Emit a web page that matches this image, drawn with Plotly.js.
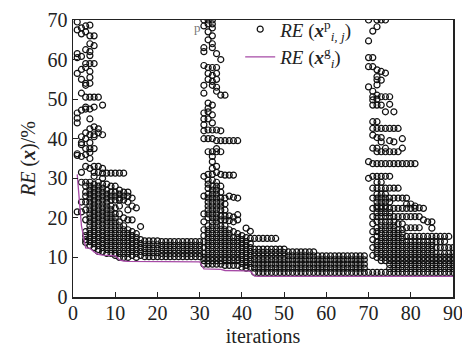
<!DOCTYPE html>
<html>
<head>
<meta charset="utf-8">
<script src="https://cdn.plot.ly/plotly-3.0.1.min.js"></script>
<style>html,body{margin:0;padding:0;background:#fff;}#chart{width:462px;height:354px;}</style>
</head>
<body>
<div id="chart"></div>
<script>
// Particle relative errors, iterations 1-30 (one list per iteration)
const phase1RE = [
  [69.5, 67.5, 61.5, 60.5, 56.5, 46.5, 45.2, 44, 36.2, 35.8, 21.5],
  [68, 66.5, 60.8, 57.5, 55, 51.5, 47.2, 40.5, 39, 38.5, 35.5, 31.5, 29, 24, 21.5],
  [68.5, 67, 62.5, 59, 58, 54, 53.5, 50.5, 48, 47.5, 41.5, 40, 37.5, 36, 33, 29, 28, 26.5, 25.5, 24, 22, 19.5, 16.5, 15.5, 14.5, 13.8],
  [68.7, 66, 64, 62, 61, 59, 57, 55.5, 54, 50.5, 47.5, 45, 42.5, 41, 39, 37.5, 36.5, 35, 32.5, 29, 28, 27, 26, 25, 24, 23, 22, 21, 20, 19, 18, 17, 16, 15, 14, 13],
  [66, 63.5, 59, 50.5, 48, 43, 41, 40.5, 37.5, 33, 31.5, 30.5, 28.5, 27.5, 26.5, 25.5, 24.5, 23.5, 22.5, 21.5, 20.5, 19.5, 18.5, 17.5, 16.5, 15.5, 14.5, 13.5, 12.5],
  [50.5, 42.5, 41.5, 33, 31.5, 29, 28, 27, 26, 25, 24, 23, 22, 21, 20, 19, 18, 17, 16, 15, 14, 13, 12, 11.5],
  [48.5, 41, 32.5, 31.3, 30, 28.5, 27.5, 26.5, 25.5, 24.5, 23.5, 22.5, 21.5, 20.5, 19.5, 18.5, 17.5, 16.5, 15.5, 14.5, 13.5, 12.5, 11.5],
  [31.3, 28.5, 27, 26, 25, 24, 23, 22, 21, 20, 19, 18, 17, 16, 15, 14, 13, 12, 11],
  [31.3, 28, 26.5, 25.5, 24.5, 23, 22, 21, 20, 19, 18, 17, 16, 15, 14, 13, 12, 11],
  [31.3, 28, 26.5, 25.5, 24.5, 22.5, 21, 20, 19, 18, 17, 16, 15, 14, 13, 12, 11, 10.5],
  [31.3, 27, 26, 25, 24.5, 23, 21, 19, 18, 17, 16, 15, 14, 13, 12, 11, 10],
  [31.3, 26.5, 25.5, 24.5, 20, 18, 17, 16, 15, 14, 13, 12, 11, 10],
  [26.5, 25.5, 24, 22, 19.5, 17, 16, 15, 14, 13, 12, 11, 10],
  [25, 23, 19.5, 16.5, 15.5, 14.5, 13.5, 12.5, 11.5, 10.5],
  [22.5, 16, 15, 14, 13, 12, 11, 10],
  [17.8, 14.5, 13.5, 12.5, 11.5, 10.5],
  [14.2, 13.2, 12.2, 11.2, 10.2],
  [14.2, 13.2, 12.2, 11.2, 10.2],
  [14.2, 13.2, 12.2, 11.2, 10.2],
  [14.2, 13.2, 12.2, 11.2, 10.2],
  [14, 13, 12, 11, 10.2],
  [14, 13, 12, 11, 10.2],
  [14, 13, 12, 11, 10.2],
  [14, 13, 12, 11, 10.2],
  [14, 13, 12, 11, 10.2],
  [14, 13, 12, 11, 10.2],
  [14, 13, 12, 11, 10.2],
  [14, 13, 12, 11, 10.2],
  [14, 13, 12, 11, 10.2],
  [14, 13, 12, 11, 10.2]
];
// iterations 31-70
const phase2RE = [
  [70, 68.5, 63, 62, 58.5, 53.5, 51.5, 46.5, 45, 43.5, 42, 40, 30.5, 25.5, 21, 19, 17, 15.5, 14, 12.5, 11, 10, 9.2, 8.3],
  [70, 69, 67, 65, 58, 56.5, 55, 49, 47.7, 46.8, 45, 42.2, 40, 36.7, 31, 29.5, 28.5, 27.5, 26, 25, 24, 23, 22, 21, 20, 18, 17, 16, 15, 14, 13, 12, 11, 10, 9.2, 8.3],
  [70, 69, 68, 66, 64, 63, 58, 56, 54.5, 53.5, 48.5, 46, 44, 42.2, 40, 36.7, 35.5, 34.2, 32.5, 31, 29.5, 28, 27, 26, 25, 24, 23, 22, 21, 20, 19, 18, 17, 16, 15, 14, 13, 12, 11, 10, 9.2, 8.3],
  [61.5, 58, 56.5, 55, 53, 52, 42.2, 39.5, 37.5, 36.7, 33, 31.5, 29, 28, 27, 26, 25, 24, 23, 22, 21, 20, 19, 18, 17, 16, 15, 14, 13, 12, 11, 10, 9.2, 8.3],
  [60, 51, 42, 39.5, 36.7, 31, 28, 26.5, 25, 24, 23, 22, 20.5, 19.5, 18, 17, 16, 15, 14, 13, 12, 11, 10, 9.2, 8.3],
  [51, 39.5, 30.8, 25, 23.5, 22, 20.5, 19.5, 18, 17, 16, 15, 14, 13, 12, 11, 10, 9.2, 8],
  [39.5, 30.8, 25.5, 20.5, 19.3, 17, 16, 15, 14, 13, 12, 11, 10, 9.2, 8],
  [39.5, 30.8, 25.2, 20.2, 19, 16.5, 15, 14, 13, 12, 11, 10, 9.2, 8],
  [39.5, 25, 20.8, 19.5, 16, 15, 14, 13, 12, 11, 10, 9.2, 8],
  [15.5, 14.5, 13.5, 12.5, 11.5, 10.5, 9.5, 8.5, 7.5],
  [17.4, 15, 14, 13, 12, 11, 10, 9, 8, 7.3],
  [16.6, 14.8, 13.5, 12.5, 11.5, 10.5, 9.5, 8.5, 7.5],
  [14.8, 12.1, 11.2, 10.3, 9.4, 8.3, 7.3, 6.2],
  [14.8, 12.1, 11.2, 10.3, 9.4, 8.3, 7.3, 6.2],
  [14.8, 12.1, 11.2, 10.3, 9.4, 8.3, 7.3, 6.2],
  [14.8, 12.1, 11.2, 10.3, 9.4, 8.3, 7.3, 6.2],
  [14.8, 12.1, 11.2, 10.3, 9.4, 8.3, 7.3, 6.2],
  [14.8, 12.1, 11.2, 10.3, 9.4, 8.3, 7.3, 6.2],
  [12.1, 11.2, 10.3, 9.4, 8.3, 7.3, 6.2],
  [12.1, 11.2, 10.3, 9.4, 8.3, 7.3, 6.2],
  [11.4, 10.4, 9.4, 8.3, 7.3, 6.2],
  [11.4, 10.4, 9.4, 8.3, 7.3, 6.2],
  [11.4, 10.4, 9.4, 8.3, 7.3, 6.2],
  [11.4, 10.4, 9.4, 8.3, 7.3, 6.2],
  [11.4, 10.4, 9.4, 8.3, 7.3, 6.2],
  [11.4, 10.4, 9.4, 8.3, 7.3, 6.2],
  [11.4, 10.4, 9.4, 8.3, 7.3, 6.2],
  [10.4, 9.4, 8.3, 7.3, 6.2],
  [10.4, 9.4, 8.3, 7.3, 6.2],
  [10.4, 9.4, 8.3, 7.3, 6.2],
  [10.4, 9.4, 8.3, 7.3, 6.2],
  [10.4, 9.4, 8.3, 7.3, 6.2],
  [10.4, 9.4, 8.3, 7.3, 6.2],
  [10.4, 9.4, 8.3, 7.3, 6.2],
  [10.4, 9.4, 8.3, 7.3, 6.2],
  [10.4, 9.4, 8.3, 7.3, 6.2],
  [10.4, 9.4, 8.3, 7.3, 6.2],
  [10.4, 9.4, 8.3, 7.3, 6.2],
  [10.4, 9.4, 8.3, 7.3, 6.2],
  [70, 64.7, 60.5, 58.2, 53.1, 34.2, 30, 6.2]
];
// iterations 71-90
const phase3RE = [
  [67.2, 60.5, 58.2, 52, 50.6, 49.8, 48.5, 44.3, 42.6, 40.9, 37.6, 33.7, 30.5, 27.5, 25, 22.4, 20.3, 18.5, 16.5, 14.5, 12.5, 10.5, 6.2],
  [70, 68.3, 57.4, 55.7, 54.9, 53.6, 51, 50, 48.5, 44.3, 42.6, 40.3, 37.6, 36.7, 33.7, 30.5, 29, 27.5, 26, 25, 24, 23, 22.4, 21.3, 20.3, 19, 17.5, 16.5, 15.3, 14, 13, 12, 11, 10, 6.2],
  [70, 57, 54.8, 50.6, 48.5, 42.6, 40.3, 39.2, 36.7, 33.7, 30.5, 29, 27.5, 26, 25, 24, 23, 22.4, 21.3, 20.3, 19, 18, 17, 16, 15, 14, 13, 12, 11, 10, 9.2, 6.2],
  [70, 56.6, 50.6, 46.8, 42.6, 37.6, 36.7, 33.7, 30.5, 27.5, 26, 25, 24, 23, 22.4, 21.3, 20.3, 19, 18, 17, 16, 15, 14, 13, 12, 11, 10, 9.2, 6.2],
  [50.6, 48.7, 42.6, 39.5, 36.7, 33.7, 30.5, 27.5, 25, 24, 22.4, 21.3, 20.3, 19, 18, 17, 16, 15, 14, 13, 12, 11, 10, 9.2, 8.2, 7.2, 6.2],
  [46.8, 42.6, 39.2, 36.7, 33.7, 27.5, 25, 22.4, 20.3, 19, 18, 17, 16, 15, 14, 13, 12, 11, 10, 9.2, 8.2, 7.2, 6.2],
  [42.6, 36.7, 33.7, 27.5, 25, 22.4, 20.3, 18.5, 17, 16, 15, 14, 13, 12, 11, 10, 9.2, 8.2, 7.2, 6.2],
  [40, 37.6, 33.7, 25, 22.4, 20.3, 18.5, 17, 16, 15, 14, 13, 12, 11, 10, 9.2, 8.2, 7.2, 6.2],
  [33.7, 25, 23.5, 22.4, 20.3, 17.5, 15.3, 14, 13, 12, 11, 10, 9.2, 8.2, 7.2, 6.2],
  [33.7, 23.5, 22.4, 20.3, 17.5, 15.3, 14, 13, 12, 11, 10, 9.2, 8.2, 7.2, 6.2],
  [33.7, 23, 22.4, 20.3, 17.5, 15.3, 14, 13, 12, 11, 10, 9.2, 8.2, 7.2, 6.2],
  [22.5, 20.3, 17.5, 15.3, 14, 13, 12, 11, 10, 9.2, 8.2, 7.2, 6.2],
  [22.4, 19.5, 15.3, 14, 13, 12, 11, 10, 9.2, 8.2, 7.2, 6.2],
  [19, 15.3, 14, 13, 12, 11, 10, 9.2, 8.2, 7.2, 6.2],
  [19, 17.4, 15.3, 14, 13, 12, 11, 10, 9.2, 8.2, 7.2, 6.2],
  [15.3, 14, 12.5, 11, 10, 9.2, 8.2, 7.2, 6.2],
  [15.3, 14, 12.5, 11, 10, 9.2, 8.2, 7.2, 6.2],
  [15.3, 14, 12.5, 11, 10, 9.2, 8.2, 7.2, 6.2],
  [15.3, 12.5, 11, 10, 9.2, 8.2, 7.2, 6.2],
  [12.5, 11, 10, 9.2, 8.2, 7.2, 6.2]
];
// Global best relative error per iteration 1..90
const globalBestRE = [
  31, 18, 12.4, 12.3, 11.4, 10.8, 10.6, 10.5, 10.4, 10.4,
  9.4, 9.1, 9.0, 9.0, 8.9, 8.9, 8.9, 8.9, 8.9, 8.9,
  8.9, 8.9, 8.9, 8.9, 8.9, 8.9, 8.9, 8.9, 8.9, 8.9,
  7.1, 7.1, 7.1, 7.1, 7.0, 6.7, 6.7, 6.7, 6.7, 6.7,
  6.6, 6.5, 5.3, 5.2, 5.2, 5.2, 5.2, 5.2, 5.2, 5.2,
  5.2, 5.2, 5.2, 5.2, 5.2, 5.2, 5.2, 5.2, 5.2, 5.2,
  5.2, 5.2, 5.2, 5.2, 5.2, 5.2, 5.2, 5.2, 5.2, 5.2,
  5.2, 5.2, 5.2, 5.2, 5.2, 5.2, 5.2, 5.2, 5.2, 5.2,
  5.2, 5.2, 5.2, 5.2, 5.2, 5.2, 5.2, 5.2, 5.2, 5.2
];
const xTicks = [0, 10, 20, 30, 40, 50, 60, 70, 80, 90];
const yTicks = [0, 10, 20, 30, 40, 50, 60, 70];

const allColumns = phase1RE.concat(phase2RE, phase3RE);
const px = [], py = [];
allColumns.forEach((col, i) => { col.forEach(v => { px.push(i + 1); py.push(v); }); });
const iterations = globalBestRE.map((_, i) => i + 1);

const serif = '"Liberation Serif", "Times New Roman", "DejaVu Serif", serif';
const traces = [
  {
    x: px, y: py, type: 'scatter', mode: 'markers',
    name: '<i>RE</i> (<b><i>x</i></b><sup>p</sup><sub><i>i, j</i></sub>)',
    marker: {symbol: 'circle-open', size: 6, color: '#111', line: {width: 1.2, color: '#111'}},
    cliponaxis: true
  },
  {
    x: iterations, y: globalBestRE, type: 'scatter', mode: 'lines',
    name: '<i>RE</i> (<b><i>x</i></b><sup>g</sup><sub><i>i</i></sub>)',
    line: {color: '#a64aa6', width: 1.3}
  }
];
const axisCommon = {
  showgrid: false, zeroline: false, showline: true, mirror: true,
  linecolor: '#222', linewidth: 1.5,
  ticks: 'inside', ticklen: 5, tickwidth: 1.2, tickcolor: '#222',
  ticklabeloverflow: 'allow',
  tickfont: {family: serif, size: 20, color: '#222'}
};
const layout = {
  width: 462, height: 354,
  margin: {l: 73, r: 9, t: 20, b: 57},
  paper_bgcolor: '#fff', plot_bgcolor: '#fff',
  font: {family: serif},
  showlegend: true,
  legend: {x: 0.44, y: 1.035, xanchor: 'left', yanchor: 'top', bgcolor: 'rgba(0,0,0,0)',
           font: {family: serif, size: 19, color: '#222'}, tracegroupgap: 0},
  xaxis: Object.assign({}, axisCommon, {range: [0, 90], tickvals: xTicks, automargin: false,
    ticklabelstandoff: -3,
    title: {text: 'iterations', font: {family: serif, size: 20, color: '#222'}, standoff: 6}}),
  yaxis: Object.assign({}, axisCommon, {range: [0, 70], tickvals: yTicks, automargin: false,
    title: {text: '<i>RE</i> (<b><i>x</i></b>)/%', font: {family: serif, size: 20, color: '#222'}, standoff: 6}}),
  annotations: [{x: 29.4, y: 68, xref: 'x', yref: 'y', text: 'p', showarrow: false,
    font: {family: serif, size: 13, color: '#777'}}]
};
Plotly.newPlot('chart', traces, layout, {displayModeBar: false, staticPlot: true});
</script>
</body>
</html>
